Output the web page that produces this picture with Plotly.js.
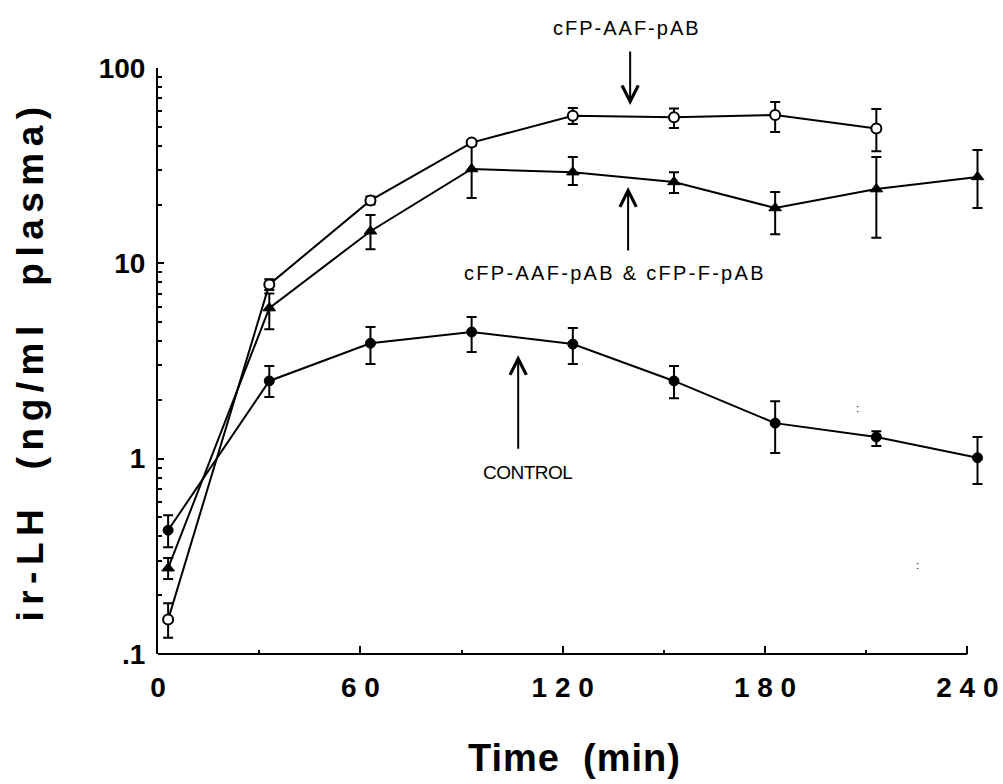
<!DOCTYPE html>
<html>
<head>
<meta charset="utf-8">
<script src="https://cdn.plot.ly/plotly-3.0.1.min.js"></script>
<style>
  html, body { margin: 0; padding: 0; background: #fff; }
  #chart { width: 1003px; height: 784px; }
</style>
</head>
<body>
<div id="chart"></div>
<script>
// ---- data ----
const timeMin = [3, 33, 63, 93, 123, 153, 183, 213, 243];

// cFP-AAF-pAB (open circles)
const aafValue = [0.15, 7.8, 21, 41.5, 57, 56, 57.5, 49];
const aafUpper = [0.182, 8.3, 22, 42.5, 62.4, 62, 67, 61.6];
const aafLower = [0.121, 7.3, 20, 40.5, 51.7, 49.3, 47, 37.5];

// cFP-AAF-pAB & cFP-F-pAB (filled triangles)
const comboValue = [0.275, 5.9, 14.6, 30.4, 29.3, 26.1, 19.2, 24.0, 27.7];
const comboUpper = [0.31, 7.0, 17.7, 40, 35.0, 29.3, 23.2, 35.0, 38.0];
const comboLower = [0.242, 4.6, 11.8, 21.6, 25.2, 22.9, 14.1, 13.5, 19.2];

// CONTROL (filled circles)
const ctrlValue = [0.43, 2.5, 3.9, 4.45, 3.86, 2.5, 1.52, 1.29, 1.01];
const ctrlUpper = [0.514, 2.98, 4.72, 5.31, 4.67, 2.98, 1.97, 1.38, 1.29];
const ctrlLower = [0.352, 2.07, 3.05, 3.52, 3.05, 2.04, 1.07, 1.16, 0.741];

const xTickVals = [0, 60, 120, 180, 240];
const xTickText = ["0", "6 0", "1 2 0", "1 8 0", "2 4 0"];
const xMinorVals = [30, 90, 150, 210];
const yTickVals = [0.1, 1, 10, 100];
const yTickText = [".1", "1", "10", "100"];
const yMinorVals = [0.2,0.3,0.4,0.5,0.6,0.7,0.8,0.9, 2,3,4,5,6,7,8,9, 20,30,40,50,60,70,80,90];

// ---- helpers ----
const plus = (up, v) => up.map((u, i) => u - v[i]);
const minus = (lo, v) => lo.map((l, i) => v[i] - l);
const FONT = "Liberation Sans, Arial, Helvetica, sans-serif";

function series(x, v, up, lo, marker) {
  return {
    type: "scatter", mode: "lines+markers",
    x: x.slice(0, v.length), y: v,
    line: { color: "#000", width: 2 },
    marker: marker,
    error_y: { type: "data", symmetric: false, array: plus(up, v), arrayminus: minus(lo, v),
               color: "#000", thickness: 2, width: 5 },
    cliponaxis: false, showlegend: false, hoverinfo: "skip"
  };
}

const traces = [
  series(timeMin, ctrlValue, ctrlUpper, ctrlLower,
         { symbol: "circle", size: 10, color: "#000", line: { color: "#000", width: 1 } }),
  series(timeMin, comboValue, comboUpper, comboLower,
         { symbol: "triangle-up", size: 11, color: "#000", line: { color: "#000", width: 1 } }),
  series(timeMin, aafValue, aafUpper, aafLower,
         { symbol: "circle", size: 10, color: "#fff", line: { color: "#000", width: 2 } })
];

const annFont = { family: FONT, size: 20, color: "#000" };
const annotations = [
  { x: 139.1, y: 1.068, xref: "x", yref: "paper", yanchor: "middle", showarrow: false,
    text: '<span style="letter-spacing:2px">cFP-AAF-pAB</span>', font: annFont },
  { x: 140, y: 1.81, xref: "x", yref: "y", text: "", showarrow: true,
    ax: 0, ay: -55, arrowhead: 5, arrowsize: 1.6, arrowwidth: 2, arrowcolor: "#000" },
  { x: 135.6, y: 0.95, xref: "x", yref: "y", showarrow: false,
    text: '<span style="letter-spacing:2.3px">cFP-AAF-pAB &amp; cFP-F-pAB</span>', font: annFont },
  { x: 139.4, y: 1.391, xref: "x", yref: "y", text: "", showarrow: true,
    ax: 0, ay: 65, arrowhead: 5, arrowsize: 1.6, arrowwidth: 2, arrowcolor: "#000" },
  { x: 109.5, y: -0.069, xref: "x", yref: "y", showarrow: false,
    text: '<span style="letter-spacing:-0.5px">CONTROL</span>', font: { family: FONT, size: 19, color: "#000" } },
  { x: 106.8, y: 0.53, xref: "x", yref: "y", text: "", showarrow: true,
    ax: 0, ay: 95, arrowhead: 5, arrowsize: 1.6, arrowwidth: 2, arrowcolor: "#000" },
  { x: 207.4, y: 0.259, xref: "x", yref: "y", showarrow: false, text: ":", font: { family: FONT, size: 11, color: "#000" } },
  { x: 225.2, y: -0.545, xref: "x", yref: "y", showarrow: false, text: ":", font: { family: FONT, size: 11, color: "#000" } }
];

const layout = {
  width: 1003, height: 784,
  margin: { l: 158, r: 12, t: 68, b: 130 },
  paper_bgcolor: "#fff", plot_bgcolor: "#fff",
  font: { family: FONT, color: "#000" },
  xaxis: {
    range: [0, 247], showgrid: false, zeroline: false, showline: false,
    tickmode: "array", tickvals: xTickVals, ticktext: xTickText,
    ticks: "inside", ticklen: 8, tickwidth: 2, tickcolor: "#000",
    minor: { tickvals: xMinorVals, ticks: "inside", ticklen: 4, tickwidth: 2, tickcolor: "#000", showgrid: false },
    tickfont: { family: FONT, size: 28, weight: "bold", color: "#000" },
    ticklabelstandoff: 14,
    title: { text: '<span style="letter-spacing:1px">Time  (min)</span>',
             font: { family: FONT, size: 38, weight: "bold", color: "#000" }, standoff: 42 }
  },
  yaxis: {
    type: "log", range: [-1, 2], showgrid: false, zeroline: false,
    showline: true, linecolor: "#000", linewidth: 2,
    tickmode: "array", tickvals: yTickVals, ticktext: yTickText,
    ticks: "inside", ticklen: 6, tickwidth: 2, tickcolor: "#000",
    minor: { tickvals: yMinorVals, ticks: "inside", ticklen: 4, tickwidth: 2, tickcolor: "#000", showgrid: false },
    tickfont: { family: FONT, size: 28, weight: "bold", color: "#000" },
    ticklabelstandoff: 5,
    title: { text: '<span style="letter-spacing:6.5px">ir-LH  (ng/ml  plasma)</span>',
             font: { family: FONT, size: 37, weight: "bold", color: "#000" }, standoff: 44 }
  },
  shapes: [
    { type: "line", xref: "x", yref: "paper", x0: 0, x1: 240, y0: 0, y1: 0,
      line: { color: "#000", width: 2 } }
  ],
  annotations: annotations
};

Plotly.newPlot("chart", traces, layout, { staticPlot: true, displayModeBar: false });
</script>
</body>
</html>
